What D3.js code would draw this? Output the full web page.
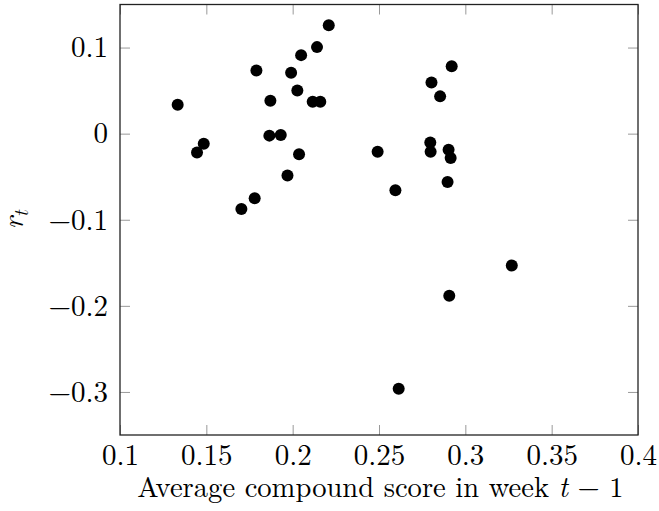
<!DOCTYPE html>
<html>
<head>
<meta charset="utf-8">
<script src="https://cdn.jsdelivr.net/npm/d3@7"></script>
<style>
  body { margin: 0; background: #fff; }
</style>
</head>
<body>
<div id="chart"></div>
<script>
// average compound score in week t-1 vs return r_t
const xVals = [0.1334, 0.1485, 0.1446, 0.1790, 0.1871, 0.1865, 0.1931, 0.1991, 0.2027, 0.2049,
  0.2141, 0.2209, 0.2116, 0.2160, 0.2037, 0.1970, 0.1780, 0.1703, 0.2492, 0.2595,
  0.2921, 0.2804, 0.2854, 0.2797, 0.2799, 0.2903, 0.2915, 0.2897, 0.3269, 0.2907, 0.2614];
const yVals = [0.0336, -0.0116, -0.0220, 0.0734, 0.0383, -0.0023, -0.0016, 0.0708, 0.0502, 0.0912,
  0.1005, 0.1260, 0.0371, 0.0371, -0.0240, -0.0487, -0.0750, -0.0875, -0.0209, -0.0658,
  0.0784, 0.0595, 0.0433, -0.0104, -0.0209, -0.0186, -0.0283, -0.0561, -0.1531, -0.1884, -0.2963];
const xTicks = [0.1, 0.15, 0.2, 0.25, 0.3, 0.35, 0.4];
const yTicks = [-0.3, -0.2, -0.1, 0, 0.1];

const serif = '"Latin Modern Roman"';

const width = 659;
const height = 511;
const margin = { top: 4.5, left: 120, bottom: 76, right: 21 };
const iwidth = width - margin.left - margin.right;
const iheight = height - margin.top - margin.bottom;

const svg = d3.select("#chart").append("svg")
  .attr("width", width)
  .attr("height", height);

const g = svg.append("g").attr("transform", `translate(${margin.left},${margin.top})`);

const x = d3.scaleLinear().domain([0.1, 0.4]).range([0, iwidth]);
const y = d3.scaleLinear().domain([-0.35, 0.15]).range([iheight, 0]);

const fmt = d => d === 0 ? "0" : (d < 0 ? "\u2212" : "") + String(Math.abs(d));

function styleAxis(sel) {
  sel.attr("font-family", serif).attr("font-size", 29);
  sel.select(".domain").remove();
  sel.selectAll(".tick line").attr("stroke", "#999").attr("stroke-width", 1);
  sel.selectAll(".tick text").attr("fill", "#000");
}

// bottom ticks (inward) with labels
g.append("g")
  .attr("transform", `translate(0,${iheight})`)
  .call(d3.axisBottom(x).tickValues(xTicks).tickSize(-10).tickPadding(9).tickFormat(fmt))
  .call(styleAxis);
// top ticks mirrored
g.append("g")
  .call(d3.axisTop(x).tickValues(xTicks).tickSize(-10).tickFormat(""))
  .call(styleAxis);
// left ticks with labels
g.append("g")
  .call(d3.axisLeft(y).tickValues(yTicks).tickSize(-10).tickPadding(12).tickFormat(fmt))
  .call(styleAxis);
// right ticks mirrored
g.append("g")
  .attr("transform", `translate(${iwidth},0)`)
  .call(d3.axisRight(y).tickValues(yTicks).tickSize(-10).tickFormat(""))
  .call(styleAxis);

// frame
g.append("rect")
  .attr("width", iwidth)
  .attr("height", iheight)
  .attr("fill", "none")
  .attr("stroke", "#222")
  .attr("stroke-width", 1.3);

g.selectAll("circle").data(xVals.map((v, i) => [v, yVals[i]]))
  .enter().append("circle")
  .attr("cx", d => x(d[0]))
  .attr("cy", d => y(d[1]))
  .attr("r", 6)
  .attr("fill", "#000");

// x label
const xl = svg.append("text")
  .attr("x", margin.left + iwidth / 2 + 1.5)
  .attr("y", 497)
  .attr("text-anchor", "middle")
  .attr("font-family", serif)
  .attr("font-size", 28.6);
xl.append("tspan").text("Average compound score in week ");
xl.append("tspan").attr("font-style", "italic").text("t");
xl.append("tspan").text(" \u2212 1");

// y label
const yl = svg.append("text")
  .attr("transform", `translate(23,${margin.top + y(-0.1)}) rotate(-90)`)
  .attr("text-anchor", "middle")
  .attr("font-family", serif)
  .attr("font-size", 29);
yl.append("tspan").attr("font-style", "italic").text("r");
yl.append("tspan").attr("font-style", "italic").attr("font-size", 20).attr("dy", 5).text("t");
</script>
</body>
</html>
